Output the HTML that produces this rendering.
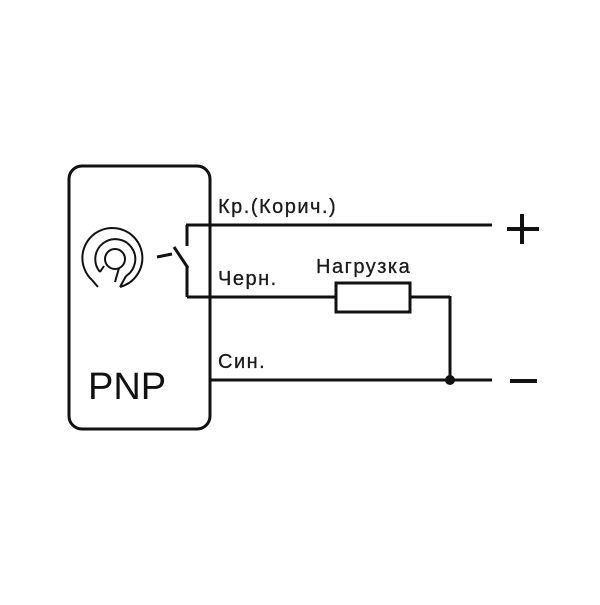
<!DOCTYPE html><html><head><style>body{margin:0;background:#fff}</style></head><body>
<svg width="600" height="600" viewBox="0 0 600 600" xmlns="http://www.w3.org/2000/svg" font-family="Liberation Sans, sans-serif">
<rect width="600" height="600" fill="#fff"/>
<g stroke="#111" stroke-width="3" fill="none">
<rect x="69" y="166" width="141" height="263" rx="13"/>
<line x1="186" y1="225" x2="492" y2="225"/>
<line x1="187" y1="225" x2="187" y2="246"/>
<line x1="187" y1="266" x2="187" y2="297"/>
<line x1="187" y1="297" x2="336" y2="297"/>
<rect x="336" y="283" width="74" height="29"/>
<line x1="410" y1="297" x2="450" y2="297"/>
<line x1="450" y1="296" x2="450" y2="380"/>
<line x1="210" y1="380" x2="492" y2="380"/>
<line x1="157" y1="257" x2="172" y2="254"/>
<line x1="174" y1="247" x2="188" y2="268"/>
</g>
<g stroke="#111" stroke-width="4" fill="none">
<line x1="507" y1="229" x2="539" y2="229"/>
<line x1="522" y1="214" x2="522" y2="244"/>
<line x1="510" y1="381" x2="537" y2="381"/>
</g>
<g stroke="#111" stroke-width="2" fill="none">
<path d="M92 280 A30 30 0 1 1 120 287"/>
<path d="M100 272 A20 20 0 1 1 126 276"/>
<circle cx="115" cy="259" r="10"/>
<path d="M92 280 L98 287"/><path d="M100 272 L104 266"/>
<path d="M126 276 L120 287"/><path d="M119 268 L115 282"/>
</g>
<circle cx="450" cy="380" r="5" fill="#111"/>
<g fill="#1a1a1a" font-size="20" letter-spacing="1.5" stroke="#1a1a1a" stroke-width="0.3">
<text x="218" y="213">Кр.(Корич.)</text>
<text x="218" y="285">Черн.</text>
<text x="316" y="273">Нагрузка</text>
<text x="218" y="368">Син.</text>
</g>
<text x="88" y="399" font-size="38" fill="#111">PNP</text>
</svg>
</body></html>
